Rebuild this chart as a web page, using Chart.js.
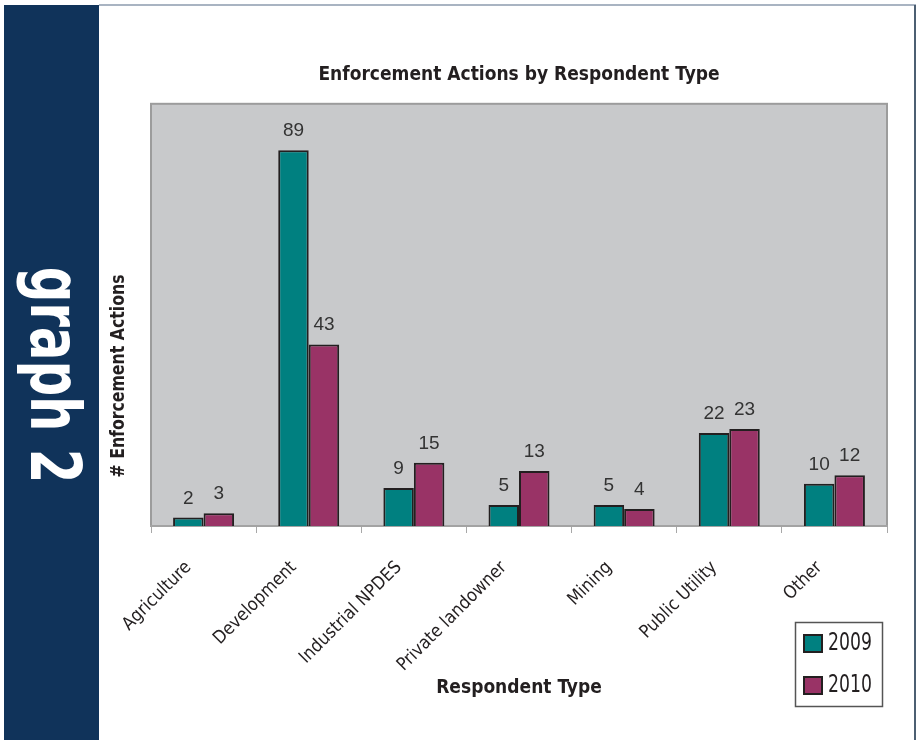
<!DOCTYPE html>
<html>
<head>
<meta charset="utf-8">
<script src="https://cdn.jsdelivr.net/npm/chart.js@4/dist/chart.umd.min.js"></script>
<style>
    html, body { margin: 0; padding: 0; background: #ffffff; }
    #page { position: relative; width: 919px; height: 740px; overflow: hidden; }
    #banner { position: absolute; left: 4px; top: 5px; width: 95px; height: 735px; background: #10335a; }
    #bannerText {
        position: absolute; left: 51px; top: 370px;
        transform: translate(-50%, -50%) rotate(90deg) scale(0.79, 1);
        color: #ffffff; white-space: nowrap;
        font: bold 70px 'DejaVu Sans Condensed', 'DejaVu Sans', sans-serif;
        line-height: 1;
    }
    #topLine { position: absolute; left: 99px; top: 4px; width: 817px; height: 2px; background: #a9b4c2; }
    #rightLine { position: absolute; left: 914px; top: 5px; width: 2px; height: 735px; background: #4c5f72; }
    #chartBox { position: absolute; left: 0; top: 0; width: 919px; height: 740px; }
</style>
</head>
<body>
<div id="page">
    <div id="banner"><div id="bannerText">graph 2</div></div>
    <div id="topLine"></div>
    <div id="rightLine"></div>
    <div id="chartBox"><canvas id="enforcementChart"></canvas></div>
</div>
<script>
const categories = ['Agriculture', 'Development', 'Industrial NPDES', 'Private landowner', 'Mining', 'Public Utility', 'Other'];
const seriesNames = ['2009', '2010'];
const values2009 = [2, 89, 9, 5, 5, 22, 10];
const values2010 = [3, 43, 15, 13, 4, 23, 12];

document.addEventListener('DOMContentLoaded', function() {
    const NARROW = "'DejaVu Sans Condensed', 'DejaVu Sans', sans-serif";
    const INK = '#231f20';

    // grey plot area with its frame
    const plotBackground = {
        id: 'plotBackground',
        beforeDraw(chart) {
            const { ctx, chartArea: a } = chart;
            ctx.save();
            ctx.fillStyle = '#c8c9cb';
            ctx.fillRect(a.left, a.top, a.right - a.left, a.bottom - a.top);
            ctx.strokeStyle = '#9c9c9c';
            ctx.lineWidth = 2;
            ctx.strokeRect(a.left, a.top, a.right - a.left, a.bottom - a.top);
            ctx.restore();
        }
    };

    // value above each bar
    const barValues = {
        id: 'barValues',
        afterDatasetsDraw(chart) {
            const ctx = chart.ctx;
            ctx.save();
            ctx.font = '19px "Liberation Sans", Arial, sans-serif';
            ctx.fillStyle = '#333333';
            ctx.textAlign = 'center';
            ctx.textBaseline = 'alphabetic';
            chart.data.datasets.forEach((ds, i) => {
                chart.getDatasetMeta(i).data.forEach((bar, j) => {
                    ctx.fillText(String(ds.data[j]), bar.x, bar.y - 14);
                });
            });
            ctx.restore();
        }
    };

    // y title sits lower than the plot centre in the original, and is squeezed a bit
    const yTitle = {
        id: 'yTitle',
        afterDraw(chart) {
            const ctx = chart.ctx;
            const text = '# Enforcement Actions';
            ctx.save();
            ctx.font = 'bold 19px ' + NARROW;
            const squeeze = 203 / ctx.measureText(text).width;
            ctx.translate(124, 376);
            ctx.rotate(-Math.PI / 2);
            ctx.scale(squeeze, 1);
            ctx.fillStyle = INK;
            ctx.textAlign = 'center';
            ctx.textBaseline = 'alphabetic';
            ctx.fillText(text, 0, 0);
            ctx.restore();
        }
    };

    // boxed legend at the lower right
    const boxLegend = {
        id: 'boxLegend',
        afterDraw(chart) {
            const ctx = chart.ctx;
            const x = 795, y = 622, w = 87, h = 84;
            ctx.save();
            ctx.fillStyle = '#ffffff';
            ctx.fillRect(x, y, w, h);
            ctx.strokeStyle = '#555555';
            ctx.lineWidth = 1.5;
            ctx.strokeRect(x + 0.5, y + 0.5, w, h);
            chart.data.datasets.forEach((ds, i) => {
                const top = y + 12 + i * 42;
                ctx.fillStyle = ds.backgroundColor;
                ctx.fillRect(x + 8, top, 20, 19);
                ctx.strokeStyle = '#231f20';
                ctx.lineWidth = 2;
                ctx.strokeRect(x + 9, top + 1, 18, 17);
                ctx.save();
                ctx.translate(x + 33, top + 10);
                ctx.scale(0.8, 1);
                ctx.font = '24px ' + NARROW;
                ctx.textBaseline = 'middle';
                ctx.textAlign = 'left';
                ctx.fillStyle = INK;
                ctx.fillText(ds.label, 0, 0);
                ctx.restore();
            });
            ctx.restore();
        }
    };

    const ctx = document.getElementById('enforcementChart').getContext('2d');
    new Chart(ctx, {
        type: 'bar',
        data: {
            labels: categories,
            datasets: [{
                label: seriesNames[0],
                data: values2009,
                backgroundColor: '#008080',
                borderColor: '#231f20',
                borderWidth: 2
            }, {
                label: seriesNames[1],
                data: values2010,
                backgroundColor: '#993366',
                borderColor: '#231f20',
                borderWidth: 2
            }]
        },
        options: {
            responsive: true,
            maintainAspectRatio: false,
            animation: false,
            events: [],
            layout: { padding: { left: 151, right: 32, top: 0, bottom: 41 } },
            datasets: { bar: { categoryPercentage: 0.58, barPercentage: 1.0 } },
            plugins: {
                legend: { display: false },
                tooltip: { enabled: false },
                title: {
                    display: true,
                    text: 'Enforcement Actions by Respondent Type',
                    color: INK,
                    font: { family: NARROW, size: 19, weight: 'bold' },
                    padding: { top: 64, bottom: 17 }
                }
            },
            scales: {
                x: {
                    afterFit: function(scale) {
                        scale.height = 173;
                    },
                    grid: { display: true, drawOnChartArea: false, offset: true, color: '#a8a8a8', tickLength: 7, lineWidth: 1 },
                    border: { display: true, color: '#a3a3a3', width: 2 },
                    ticks: {
                        color: INK,
                        font: { family: NARROW, size: 18 },
                        minRotation: 45,
                        maxRotation: 45,
                        padding: 24,
                        labelOffset: -15
                    },
                    title: {
                        display: true,
                        text: 'Respondent Type',
                        color: INK,
                        font: { family: NARROW, size: 19, weight: 'bold' },
                        padding: { top: 0, bottom: 0 }
                    }
                },
                y: {
                    display: false,
                    min: 0,
                    max: 100
                }
            }
        },
        plugins: [plotBackground, barValues, yTitle, boxLegend]
    });
});
</script>
</body>
</html>
